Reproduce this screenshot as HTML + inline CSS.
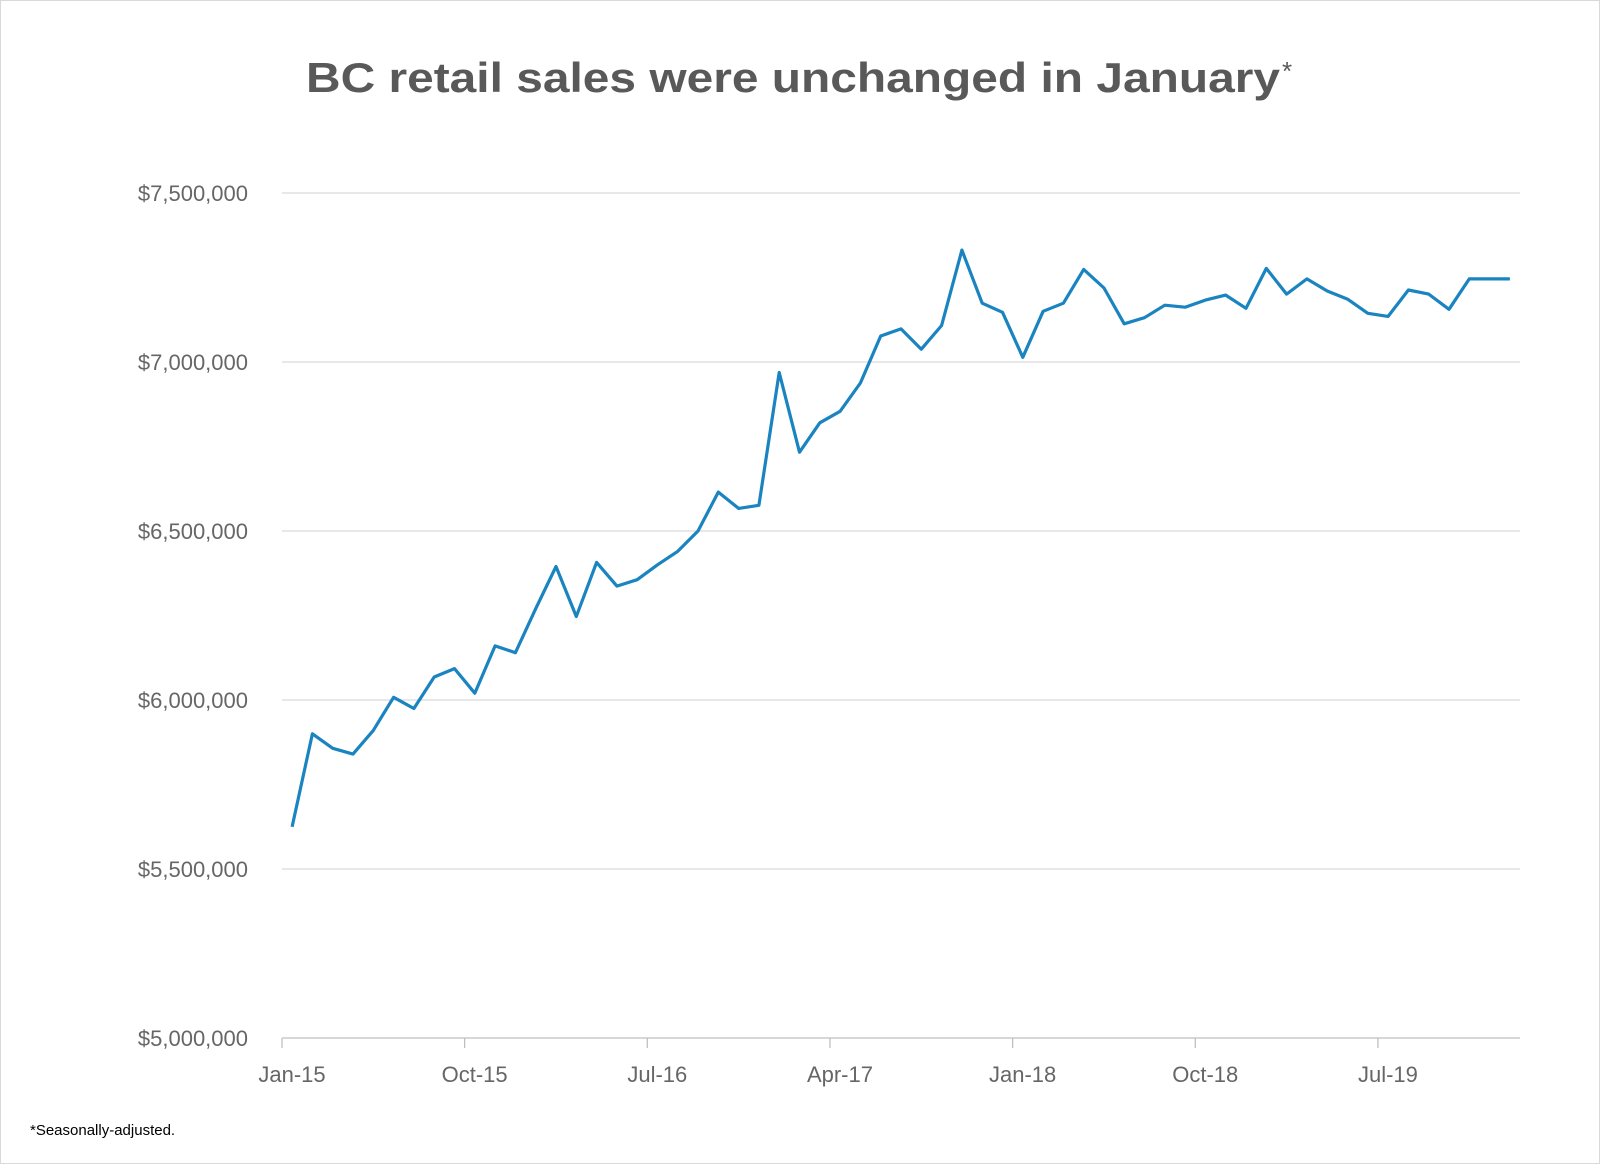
<!DOCTYPE html>
<html><head><meta charset="utf-8"><style>
html,body{margin:0;padding:0;background:#fff}
svg{display:block;font-family:"Liberation Sans",sans-serif}
</style></head><body>
<svg width="1600" height="1164" viewBox="0 0 1600 1164" xmlns="http://www.w3.org/2000/svg">
<rect x="0.5" y="0.5" width="1599" height="1163" fill="#fff" stroke="#d9d9d9"/>
<text x="306" y="92" font-size="42" font-weight="bold" fill="#595959" textLength="974" lengthAdjust="spacingAndGlyphs">BC retail sales were unchanged in January</text>
<text x="1282" y="80" font-size="26" fill="#595959">*</text>
<g id="grid"></g><g id="yl"></g><g id="xl"></g>
<path id="line" fill="none" stroke="#1a84c0" stroke-width="3.2" stroke-linejoin="round"/>
<text x="30" y="1135" font-size="15" fill="#000">*Seasonally-adjusted.</text>
</svg>
<script>
const values=[5.625,5.90,5.857,5.84,5.91,6.008,5.975,6.068,6.093,6.02,6.16,6.14,6.27,6.395,6.247,6.407,6.337,6.356,6.40,6.44,6.50,6.615,6.567,6.576,6.969,6.733,6.82,6.854,6.938,7.077,7.098,7.038,7.108,7.331,7.174,7.147,7.014,7.15,7.174,7.274,7.219,7.113,7.131,7.168,7.162,7.183,7.198,7.159,7.277,7.201,7.246,7.21,7.186,7.144,7.135,7.213,7.201,7.156,7.246,7.246,7.246];
const yTicks=[5.0,5.5,6.0,6.5,7.0,7.5];
const yTickLabels=["$5,000,000","$5,500,000","$6,000,000","$6,500,000","$7,000,000","$7,500,000"];
const xTickIdx=[0,9,18,27,36,45,54];
const xTickLabels=["Jan-15","Oct-15","Jul-16","Apr-17","Jan-18","Oct-18","Jul-19"];
const NS="http://www.w3.org/2000/svg";
const L=282,R=1520,T=193,B=1038,n=values.length,step=(R-L)/n;
const y=v=>B-(v-5.0)/(7.5-5.0)*(B-T);
const x=i=>L+step*(i+0.5);
function mk(tag,attrs,parent){const e=document.createElementNS(NS,tag);for(const k in attrs)e.setAttribute(k,attrs[k]);parent.appendChild(e);return e;}
const grid=document.getElementById('grid'),yl=document.getElementById('yl'),xl=document.getElementById('xl');
yTicks.forEach((v,i)=>{
 const g=mk('line',{x1:L,x2:R,y1:y(v),y2:y(v),stroke:i===0?'#bfbfbf':'#d9d9d9','stroke-width':1.3},grid);
 
 
 const t=mk('text',{x:248,y:y(v)+8,'text-anchor':'end','font-size':22,fill:'#666'},yl);
 t.textContent=yTickLabels[i];
 
 
});
xTickIdx.forEach((idx,i)=>{
 const tx=L+step*idx;
 const tk=mk('line',{x1:tx,x2:tx,y1:B,y2:B+10,stroke:'#bfbfbf','stroke-width':1.3},grid);
 
 
 const t=mk('text',{x:tx+10,y:1082,'text-anchor':'middle','font-size':22,fill:'#666'},xl);
 t.textContent=xTickLabels[i];
 
 
});
document.getElementById('line').setAttribute('d',values.map((v,i)=>(i?'L':'M')+x(i).toFixed(1)+','+y(v).toFixed(1)).join(''));
</script>
</body></html>
